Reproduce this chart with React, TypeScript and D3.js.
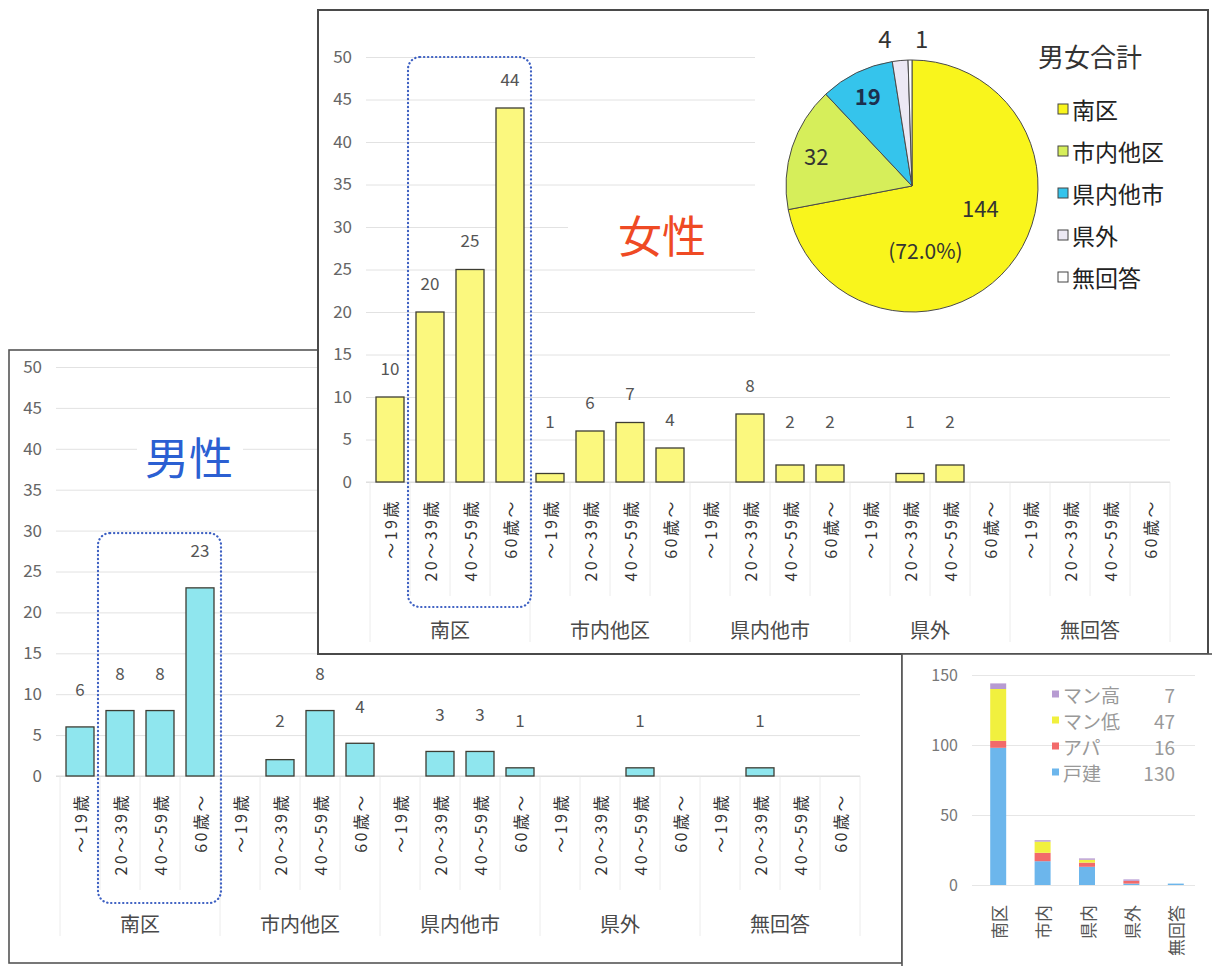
import React, { useEffect, useRef } from 'react';
import * as d3 from 'd3';

// ── Data ──────────────────────────────────────────────────────────────────────
const GROUPS = ['南区', '市内他区', '県内他市', '県外', '無回答'];
const AGES = ['～19歳', '20～39歳', '40～59歳', '60歳～'];

// 4 age bands per residence group, in GROUPS order
const FEMALE = [10, 20, 25, 44, 1, 6, 7, 4, 0, 8, 2, 2, 0, 1, 2, 0, 0, 0, 0, 0];
const MALE = [6, 8, 8, 23, 0, 2, 8, 4, 0, 3, 3, 1, 0, 0, 1, 0, 0, 1, 0, 0];

const PIE_LABELS = ['南区', '市内他区', '県内他市', '県外', '無回答'];
const PIE_VALUES = [144, 32, 19, 4, 1];
const PIE_COLORS = ['#f9f51c', '#d6ee5a', '#35c4ec', '#ece8f4', '#ffffff'];

const HOUSE_CATS = ['南区', '市内', '県内', '県外', '無回答'];
const HOUSE_TYPES = ['戸建', 'アパ', 'マン低', 'マン高'];
const HOUSE_DETACHED = [98, 17, 13, 1, 1];
const HOUSE_APART = [5, 6, 3, 2, 0];
const HOUSE_LOWRISE = [37, 8, 2, 0, 0];
const HOUSE_HIGHRISE = [4, 1, 1, 1, 0];
const HOUSE_COLORS = ['#6cb6ec', '#f26a6a', '#f1f03e', '#b79bd2'];

const FONT = '"Noto Sans CJK JP", "Noto Sans", sans-serif';
const AGE_TICKS = [0, 5, 10, 15, 20, 25, 30, 35, 40, 45, 50];

type ChartOpts = {
  values: number[];
  left: number;
  right: number;
  top: number;
  bottom: number;
  fill: string;
  labelGap: number;
  labelFloor: number;
  boxTopValue: number;
  boxBottom: number;
  title: string;
  titleColor: string;
  titleX: number;
  titleY: number;
  mask: [number, number, number, number];
};

function drawAgeChart(root: any, o: ChartOpts) {
  const idx = d3.range(o.values.length);
  const x = d3.scaleBand<number>().domain(idx).range([o.left, o.right])
    .paddingInner(0.3).paddingOuter(0.15);
  const y = d3.scaleLinear().domain([0, 50]).range([o.bottom, o.top]);
  const step = x.step();
  const g = root.append('g');

  // grid lines
  g.append('g')
    .attr('transform', `translate(${o.left - 4},0)`)
    .call(d3.axisLeft(y).tickValues(AGE_TICKS).tickSize(-(o.right - o.left + 4)).tickFormat(() => ''))
    .call((ax: any) => ax.select('.domain').remove())
    .call((ax: any) => ax.selectAll('.tick line').attr('stroke', '#e2e2e2').attr('stroke-width', 1));

  // y tick labels
  g.append('g')
    .attr('transform', `translate(${o.left - 14},0)`)
    .call(d3.axisLeft(y).tickValues(AGE_TICKS).tickSize(0).tickPadding(4))
    .call((ax: any) => ax.select('.domain').remove())
    .call((ax: any) => ax.selectAll('.tick text')
      .attr('fill', '#666').attr('font-size', '17px').attr('font-family', FONT));

  // white box behind the title (hides grid lines)
  g.append('rect')
    .attr('x', o.mask[0]).attr('y', o.mask[1])
    .attr('width', o.mask[2]).attr('height', o.mask[3])
    .attr('fill', '#fff');

  // category separators of the two-level axis
  g.selectAll('line.sep')
    .data(d3.range(o.values.length + 1))
    .join('line')
    .attr('x1', (i: number) => o.left + i * step)
    .attr('x2', (i: number) => o.left + i * step)
    .attr('y1', o.bottom)
    .attr('y2', (i: number) => o.bottom + (i % 4 === 0 ? 160 : 114))
    .attr('stroke', '#ececec')
    .attr('stroke-width', 1);

  // baseline
  g.append('line')
    .attr('x1', o.left - 4).attr('x2', o.right)
    .attr('y1', o.bottom).attr('y2', o.bottom)
    .attr('stroke', '#dcdcdc');

  // bars
  g.selectAll('rect.bar')
    .data(idx.filter(i => o.values[i] > 0))
    .join('rect')
    .attr('x', (i: number) => x(i)!)
    .attr('y', (i: number) => y(o.values[i]))
    .attr('width', x.bandwidth())
    .attr('height', (i: number) => o.bottom - y(o.values[i]))
    .attr('fill', o.fill)
    .attr('stroke', '#3d3d33')
    .attr('stroke-width', 1.3);

  // value labels
  g.selectAll('text.val')
    .data(idx.filter(i => o.values[i] > 0))
    .join('text')
    .attr('x', (i: number) => x(i)! + x.bandwidth() / 2)
    .attr('y', (i: number) => Math.min(y(o.values[i]) - o.labelGap, o.bottom - o.labelFloor))
    .attr('text-anchor', 'middle')
    .attr('dominant-baseline', 'central')
    .attr('font-size', '17px')
    .attr('font-family', FONT)
    .attr('fill', '#555')
    .text((i: number) => o.values[i]);

  // rotated age labels
  g.selectAll('text.age')
    .data(idx)
    .join('text')
    .attr('transform', (i: number) =>
      `translate(${x(i)! + x.bandwidth() / 2},${o.bottom + 17}) rotate(-90)`)
    .attr('text-anchor', 'end')
    .attr('dominant-baseline', 'central')
    .attr('font-size', '16px')
    .attr('letter-spacing', '2.5px')
    .attr('font-family', FONT)
    .attr('fill', '#333')
    .text((i: number) => AGES[i % 4]);

  // group labels
  g.selectAll('text.grp')
    .data(GROUPS)
    .join('text')
    .attr('x', (_: string, k: number) => o.left + (k * 4 + 2) * step)
    .attr('y', o.bottom + 147)
    .attr('text-anchor', 'middle')
    .attr('dominant-baseline', 'central')
    .attr('font-size', '20px')
    .attr('font-family', FONT)
    .attr('fill', '#4a4a4a')
    .text((d: string) => d);

  // dotted highlight around 南区 20~60+
  const bx0 = x(1)! - 8;
  const bx1 = x(3)! + x.bandwidth() + 7;
  const by0 = y(o.boxTopValue);
  g.append('rect')
    .attr('x', bx0).attr('y', by0)
    .attr('width', bx1 - bx0).attr('height', o.boxBottom - by0)
    .attr('rx', 12).attr('ry', 12)
    .attr('fill', 'none')
    .attr('stroke', '#3c5fc2')
    .attr('stroke-width', 2.2)
    .attr('stroke-linecap', 'round')
    .attr('stroke-dasharray', '0.3 3.7');

  // big title
  g.append('text')
    .attr('x', o.titleX).attr('y', o.titleY)
    .attr('text-anchor', 'middle')
    .attr('dominant-baseline', 'central')
    .attr('font-size', '44px')
    .attr('font-family', FONT)
    .attr('fill', o.titleColor)
    .text(o.title);
}

export default function App() {
  const ref = useRef<SVGSVGElement>(null);

  useEffect(() => {
    if (!ref.current) return;
    const svg = d3.select(ref.current);
    svg.selectAll('*').remove();

    svg.append('rect').attr('width', 1212).attr('height', 966).attr('fill', '#fff');

    // ── Male panel (back) ──────────────────────────────────────────────────────
    svg.append('rect')
      .attr('x', 9).attr('y', 350).attr('width', 893).attr('height', 613)
      .attr('fill', '#fff').attr('stroke', '#555').attr('stroke-width', 1.6);

    drawAgeChart(svg, {
      values: MALE, left: 60, right: 860, top: 367, bottom: 776,
      fill: '#8fe6ee', labelGap: 38, labelFloor: 57,
      boxTopValue: 29.7, boxBottom: 903,
      title: '男性', titleColor: '#2b5fd2', titleX: 189, titleY: 456,
      mask: [137, 428, 106, 58],
    });

    // ── Female panel (front) ───────────────────────────────────────────────────
    svg.append('rect')
      .attr('x', 318).attr('y', 10).attr('width', 890).attr('height', 644)
      .attr('fill', '#fff').attr('stroke', '#4a4a4a').attr('stroke-width', 2);

    drawAgeChart(svg, {
      values: FEMALE, left: 370, right: 1170, top: 57, bottom: 482,
      fill: '#fbf87e', labelGap: 30, labelFloor: 62,
      boxTopValue: 50, boxBottom: 607,
      title: '女性', titleColor: '#ef4a24', titleX: 662, titleY: 234,
      mask: [568, 200, 190, 60],
    });

    // ── Pie: 男女合計 ──────────────────────────────────────────────────────────
    const pg = svg.append('g');
    pg.append('rect').attr('x', 755).attr('y', 12).attr('width', 451).attr('height', 306).attr('fill', '#fff');

    const cx = 912, cy = 186, r = 126;
    const total = d3.sum(PIE_VALUES);
    const pie = d3.pie<number>().sort(null).value(d => d);
    const arcs = pie(PIE_VALUES);
    const arc = d3.arc<d3.PieArcDatum<number>>().innerRadius(0).outerRadius(r);
    const slices = pg.append('g').attr('transform', `translate(${cx},${cy})`);
    slices.selectAll('path')
      .data(arcs)
      .join('path')
      .attr('d', arc as any)
      .attr('fill', (_, i) => PIE_COLORS[i])
      .attr('stroke', '#4a4a4a')
      .attr('stroke-width', 1);

    const inner = d3.arc<d3.PieArcDatum<number>>().innerRadius(r * 0.8).outerRadius(r * 0.8);
    const outer = d3.arc<d3.PieArcDatum<number>>().innerRadius(r * 1.18).outerRadius(r * 1.18);
    const mid = d3.arc<d3.PieArcDatum<number>>().innerRadius(r * 0.55).outerRadius(r * 0.55);

    const labelStyle = (t: any) => t
      .attr('text-anchor', 'middle')
      .attr('dominant-baseline', 'central')
      .attr('font-family', FONT)
      .attr('font-size', '22px')
      .attr('fill', '#333');

    // 南区: value + share
    const [mx, my] = mid.centroid(arcs[0]);
    slices.append('text').attr('x', mx + 15).attr('y', my - 23).call(labelStyle).text(PIE_VALUES[0]);
    slices.append('text').attr('x', mx - 40).attr('y', my + 20).call(labelStyle)
      .attr('font-size', '21px')
      .text(`(${(PIE_VALUES[0] / total * 100).toFixed(1)}%)`);
    // 市内他区 / 県内他市 inside
    [1, 2].forEach(i => {
      const [lx, ly] = inner.centroid(arcs[i]);
      slices.append('text').attr('x', lx).attr('y', ly).call(labelStyle)
        .attr('font-weight', i === 2 ? 'bold' : 'normal')
        .attr('fill', i === 2 ? '#1c2f4e' : '#333')
        .text(PIE_VALUES[i]);
    });
    // 県外 / 無回答 outside, spread apart
    [3, 4].forEach(i => {
      const [lx, ly] = outer.centroid(arcs[i]);
      slices.append('text').attr('x', lx + (i === 3 ? -13 : 12)).attr('y', ly).call(labelStyle)
        .attr('font-size', '24px')
        .text(PIE_VALUES[i]);
    });

    // legend
    pg.append('text')
      .attr('x', 1090).attr('y', 55)
      .attr('text-anchor', 'middle').attr('dominant-baseline', 'central')
      .attr('font-family', FONT).attr('font-size', '26px').attr('fill', '#333')
      .text('男女合計');
    const lg = pg.selectAll('g.leg').data(PIE_LABELS).join('g')
      .attr('transform', (_, i) => `translate(1058,${109 + i * 42})`);
    lg.append('rect')
      .attr('x', 0).attr('y', -5).attr('width', 10).attr('height', 10)
      .attr('fill', (_, i) => PIE_COLORS[i]).attr('stroke', '#444').attr('stroke-width', 1);
    lg.append('text')
      .attr('x', 14).attr('dominant-baseline', 'central')
      .attr('font-family', FONT).attr('font-size', '23px').attr('fill', '#222')
      .text(d => d);

    // ── Small stacked chart: housing type ─────────────────────────────────────
    const sg = svg.append('g');
    sg.append('rect')
      .attr('x', 902).attr('y', 654).attr('width', 320).attr('height', 320)
      .attr('fill', '#fff').attr('stroke', '#555').attr('stroke-width', 1.6);

    const rows = HOUSE_CATS.map((c, i) => ({
      cat: c,
      戸建: HOUSE_DETACHED[i],
      アパ: HOUSE_APART[i],
      マン低: HOUSE_LOWRISE[i],
      マン高: HOUSE_HIGHRISE[i],
    }));
    const xs = d3.scaleBand().domain(HOUSE_CATS).range([976, 1198]).paddingInner(0.64).paddingOuter(0.32);
    const ys = d3.scaleLinear().domain([0, 150]).range([885, 675]);

    sg.append('g')
      .attr('transform', 'translate(972,0)')
      .call(d3.axisLeft(ys).tickValues([0, 50, 100, 150]).tickSize(-223).tickFormat(() => ''))
      .call((ax: any) => ax.select('.domain').remove())
      .call((ax: any) => ax.selectAll('.tick line').attr('stroke', '#e6e6e6'));
    sg.append('g')
      .attr('transform', 'translate(958,0)')
      .call(d3.axisLeft(ys).tickValues([0, 50, 100, 150]).tickSize(0).tickPadding(0))
      .call((ax: any) => ax.select('.domain').remove())
      .call((ax: any) => ax.selectAll('.tick text')
        .attr('fill', '#777').attr('font-size', '16px').attr('font-family', FONT));

    const stack = d3.stack<any>().keys(HOUSE_TYPES)(rows);
    sg.selectAll('g.layer')
      .data(stack)
      .join('g')
      .attr('fill', (_, i) => HOUSE_COLORS[i])
      .selectAll('rect')
      .data(d => d)
      .join('rect')
      .attr('x', (d: any) => xs(d.data.cat)!)
      .attr('y', (d: any) => ys(d[1]))
      .attr('width', xs.bandwidth())
      .attr('height', (d: any) => ys(d[0]) - ys(d[1]));

    sg.selectAll('text.hc')
      .data(HOUSE_CATS)
      .join('text')
      .attr('transform', d => `translate(${xs(d)! + xs.bandwidth() / 2},905) rotate(-90)`)
      .attr('text-anchor', 'end')
      .attr('dominant-baseline', 'central')
      .attr('font-size', '17px')
      .attr('font-family', FONT)
      .attr('fill', '#555')
      .text(d => d);

    const typeTotals = [HOUSE_DETACHED, HOUSE_APART, HOUSE_LOWRISE, HOUSE_HIGHRISE].map(a => d3.sum(a));
    const legendOrder = [3, 2, 1, 0];
    const sl = sg.selectAll('g.sl').data(legendOrder).join('g')
      .attr('transform', (_, k) => `translate(1052,${694 + k * 26})`);
    sl.append('rect')
      .attr('x', 0).attr('y', -3.5).attr('width', 7).attr('height', 7)
      .attr('fill', i => HOUSE_COLORS[i]);
    sl.append('text')
      .attr('x', 11).attr('dominant-baseline', 'central')
      .attr('font-family', FONT).attr('font-size', '19px').attr('fill', '#999')
      .text(i => HOUSE_TYPES[i]);
    sl.append('text')
      .attr('x', 123).attr('text-anchor', 'end').attr('dominant-baseline', 'central')
      .attr('font-family', FONT).attr('font-size', '19px').attr('fill', '#999')
      .text(i => typeTotals[i]);
  }, []);

  return (
    <div style={{ position: 'absolute', left: 0, top: 0, width: 1212, height: 966, background: '#fff' }}>
      <svg ref={ref} width={1212} height={966} style={{ display: 'block' }} />
    </div>
  );
}
